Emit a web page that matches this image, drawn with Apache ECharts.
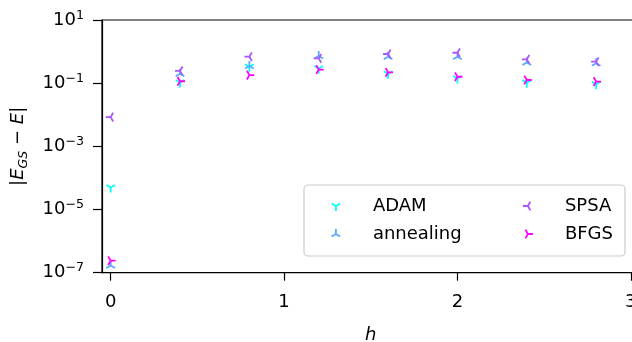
<!DOCTYPE html>
<html>
<head>
<meta charset="utf-8">
<script src="https://cdn.jsdelivr.net/npm/echarts@6/dist/echarts.min.js"></script>
<style>html,body{margin:0;padding:0;background:#fff;}#c{width:632px;height:342px;}</style>
</head>
<body>
<div id="c"></div>
<script>
// ---- data ----
const hVals = [0, 0.4, 0.8, 1.2, 1.6, 2.0, 2.4, 2.8];
const adamVals = [5.0e-5, 0.105, 0.33, 0.29, 0.20, 0.14, 0.104, 0.093];
const annealingVals = [1.7e-7, 0.20, 0.35, 0.72, 0.69, 0.69, 0.45, 0.43];
const spsaVals = [8.4e-3, 0.245, 0.69, 0.61, 0.84, 0.92, 0.57, 0.48];
const bfgsVals = [2.4e-7, 0.115, 0.18, 0.27, 0.22, 0.16, 0.126, 0.112];
const seriesNames = ['ADAM', 'annealing', 'SPSA', 'BFGS'];
const xTicks = [0, 1, 2, 3];
const yTickExps = [-7, -5, -3, -1, 1];

const FONT = 'DejaVu Sans';
const colors = ['#00ffff', '#55aaff', '#aa55ff', '#ff00ff'];
const BOX = 'M-1,-1M1,1';
const symbols = [
  'path://' + BOX + 'M0,0L0,1M0,0L-0.866,-0.5M0,0L0.866,-0.5',   // tri_down
  'path://' + BOX + 'M0,0L0,-1M0,0L-0.866,0.5M0,0L0.866,0.5',    // tri_up
  'path://' + BOX + 'M0,0L-1,0M0,0L0.5,-0.866M0,0L0.5,0.866',    // tri_left
  'path://' + BOX + 'M0,0L1,0M0,0L-0.5,-0.866M0,0L-0.5,0.866'    // tri_right
];
const allVals = [adamVals, annealingVals, spsaVals, bfgsVals];

const series = seriesNames.map((name, k) => ({
  name: name,
  type: 'scatter',
  symbol: symbols[k],
  symbolSize: 10,
  symbolKeepAspect: true,
  data: hVals.map((h, i) => [h, allVals[k][i]]),
  itemStyle: { color: colors[k], borderColor: colors[k], borderWidth: 1.8, opacity: 1 },
  emphasis: { disabled: true },
  z: 3 + k
}));

function supLabel(v) {
  const e = Math.round(Math.log10(v));
  return '{b|10}{s|' + (e < 0 ? '\u2212' + (-e) : String(e)) + '}';
}

const chart = echarts.init(document.getElementById('c'), null, { renderer: 'canvas' });
const legendCommon = {
  orient: 'vertical',
  itemWidth: 10,
  itemHeight: 10,
  itemGap: 10,
  padding: 0,
  selectedMode: false,
  itemStyle: { borderWidth: 1.8 },
  textStyle: { fontFamily: FONT, fontSize: 18, color: '#000', padding: [0, 0, 0, 27] }
};
chart.setOption({
  animation: false,
  backgroundColor: '#fff',
  grid: {
    left: 102, top: 20, width: 537.5, height: 252.7,
    containLabel: false, outerBoundsMode: 'none',
    show: true, borderColor: '#000', borderWidth: 1.2, backgroundColor: 'transparent'
  },
  xAxis: {
    type: 'value', min: -0.05, max: 3.05,
    name: 'h', nameLocation: 'middle', nameGap: 54,
    nameTextStyle: { fontFamily: FONT, fontSize: 18, fontStyle: 'italic', color: '#000' },
    axisLine: { show: true, onZero: false, lineStyle: { color: '#000', width: 1.2 } },
    axisTick: { show: true, length: 8, customValues: xTicks, lineStyle: { color: '#000', width: 1.2 } },
    axisLabel: { customValues: xTicks, margin: 21, fontFamily: FONT, fontSize: 18, color: '#000',
      formatter: v => String(v) },
    splitLine: { show: false }
  },
  yAxis: {
    type: 'log', logBase: 10, min: 1e-7, max: 10,
    name: '{t||}{i|E}{sub|GS}{t| \u2212 }{i|E}{t||}',
    nameLocation: 'middle', nameRotate: 90, nameGap: 72,
    nameTextStyle: {
      fontFamily: FONT, fontSize: 18, color: '#000',
      rich: {
        t: { fontFamily: FONT, fontSize: 18, color: '#000', lineHeight: 24 },
        i: { fontFamily: FONT, fontSize: 18, fontStyle: 'italic', color: '#000', lineHeight: 24 },
        sub: { fontFamily: FONT, fontSize: 12.6, fontStyle: 'italic', color: '#000', lineHeight: 14, verticalAlign: 'bottom' }
      }
    },
    axisLine: { show: true, onZero: false, lineStyle: { color: '#000', width: 1.2 } },
    axisTick: { show: true, length: 9, customValues: yTickExps.map(e => Math.pow(10, e)), lineStyle: { color: '#000', width: 1.2 } },
    minorTick: { show: false },
    axisLabel: {
      customValues: yTickExps.map(e => Math.pow(10, e)),
      margin: 18, formatter: supLabel,
      rich: {
        b: { fontFamily: FONT, fontSize: 18, color: '#000', lineHeight: 22 },
        s: { fontFamily: FONT, fontSize: 12.6, color: '#000', lineHeight: 13, verticalAlign: 'top' }
      }
    },
    splitLine: { show: false }
  },
  graphic: [{
    type: 'rect', z: 50,
    shape: { x: 304, y: 185, width: 321, height: 71, r: 4 },
    style: { fill: 'rgba(255,255,255,0.8)', stroke: '#cccccc', lineWidth: 1.2 }
  }],
  legend: [
    Object.assign({}, legendCommon, { data: ['ADAM', 'annealing'], left: 330, top: 197, z: 60 }),
    Object.assign({}, legendCommon, { data: ['SPSA', 'BFGS'], left: 522, top: 197, z: 60 })
  ],
  series: series
});
</script>
</body>
</html>
